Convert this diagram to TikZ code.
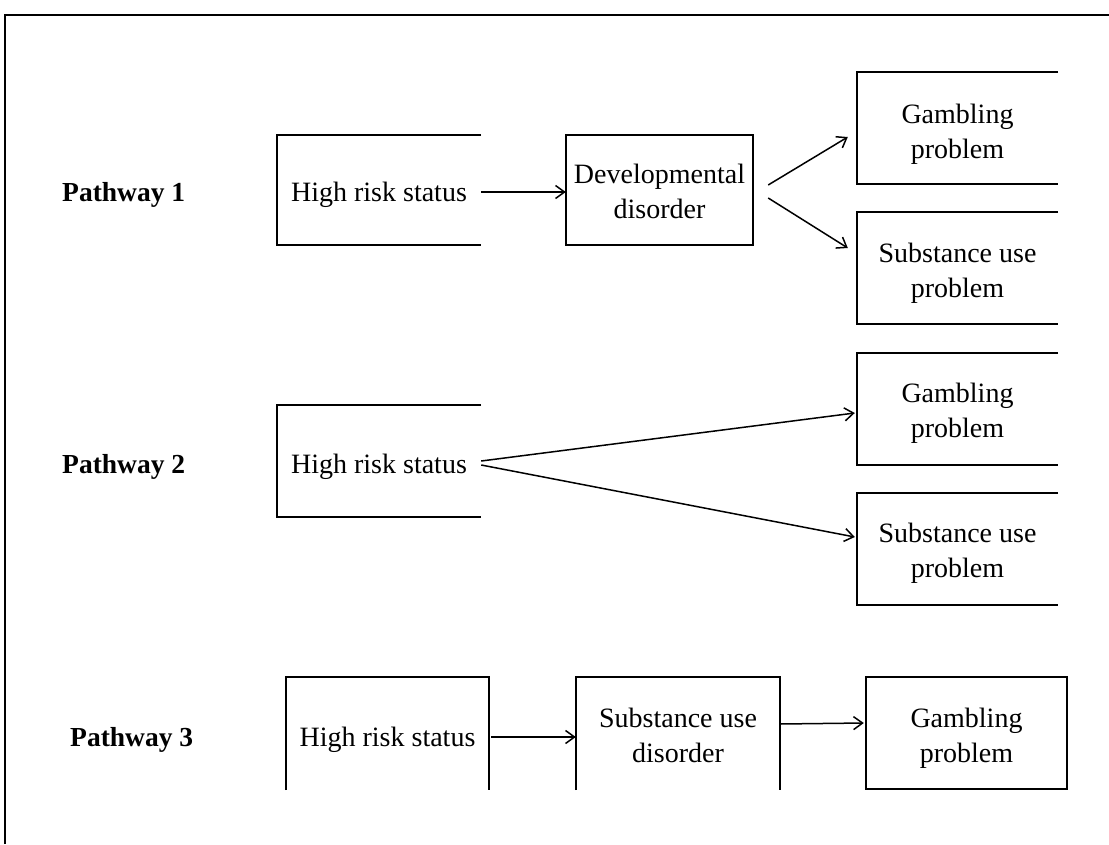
\documentclass[tikz,border=0pt]{standalone}
\usepackage{fontspec}
\setmainfont{Liberation Serif}
\usetikzlibrary{arrows.meta,calc}
\begin{document}
\begin{tikzpicture}[x=1pt,y=-1pt,
  txt/.style={font=\fontsize{28}{35}\selectfont, align=center, inner sep=0pt},
  lbl/.style={font=\fontsize{27.5}{33}\selectfont\bfseries, inner sep=0pt, anchor=west},
  edge/.style={line width=1.8pt},
  frame/.style={line width=2pt},
  arr/.style={line width=1.5pt, -{Straight Barb[length=9pt,width=13pt,line width=1.5pt]}},
  widebox/.style={inner sep=0pt, minimum width=204pt, minimum height=110pt},
  outbox/.style={inner sep=0pt, minimum width=201pt, minimum height=112pt},
  tallbox/.style={inner sep=0pt, minimum width=203pt, minimum height=120pt}]
\useasboundingbox (0,0) rectangle (1109,844);
% outer frame
\draw[frame] (5,844) -- (5,15) -- (1109,15);

% Pathway labels
\node[lbl] (p1) at (62,195) {Pathway 1};
\node[lbl] (p2) at (62,467) {Pathway 2};
\node[lbl] (p3) at (70,740) {Pathway 3};

% box geometry
\node[widebox] (hr1) at (379,190) {};
\node[inner sep=0pt, minimum width=187pt, minimum height=110pt] (dev) at (659.5,190) {};
\node[outbox] (gam1) at (957.5,128) {};
\node[outbox] (sub1) at (957.5,268) {};
\node[widebox, minimum height=112pt] (hr2) at (379,461) {};
\node[outbox] (gam2) at (957.5,409) {};
\node[outbox] (sub2) at (957.5,549) {};
\node[tallbox] (hr3) at (387.5,737) {};
\node[tallbox, minimum width=204pt] (sub3) at (678,737) {};
\node[outbox] (gam3) at (966.5,733) {};

% box texts
\node[txt] (hr1t) at ($(hr1)+(0,5)$) {High risk status};
\node[txt] (devt) at ($(dev)+(0,1.5)$) {Developmental\\disorder};
\node[txt] (gam1t) at ($(gam1)+(0,6)$) {Gambling\\problem};
\node[txt] (sub1t) at ($(sub1)+(0,5.5)$) {Substance use\\problem};
\node[txt] (hr2t) at ($(hr2)+(0,6)$) {High risk status};
\node[txt] (gam2t) at ($(gam2)+(0,4.5)$) {Gambling\\problem};
\node[txt] (sub2t) at ($(sub2)+(0,4.5)$) {Substance use\\problem};
\node[txt] (hr3t) at ($(hr3)+(0,3)$) {High risk status};
\node[txt] (sub3t) at ($(sub3)+(0,-2)$) {Substance use\\disorder};
\node[txt] (gam3t) at ($(gam3)+(0,5)$) {Gambling\\problem};

% box edges
\foreach \b in {hr1,hr2,gam1,sub1,gam2,sub2}{
  \draw[edge] (\b.north east) -- (\b.north west) -- (\b.south west) -- (\b.south east);
}
\draw[edge] (dev.north west) rectangle (dev.south east);
\draw[edge] (gam3.north west) rectangle (gam3.south east);
\foreach \b in {hr3,sub3}{
  \draw[edge] (\b.west |- 0,790) -- (\b.north west) -- (\b.north east) -- (\b.east |- 0,790);
}

% connectors
\draw[arr] ($(hr1.east)+(0,2)$) -- ($(dev.west)+(0,2)$);
\draw[arr] ($(dev.east)+(15,-5)$) -- ($(gam1.west)+(-9,9)$);
\draw[arr] ($(dev.east)+(15,8)$) -- ($(sub1.west)+(-9,-20)$);
\draw[arr] (hr2.east) -- ($(gam2.west)+(-2,4)$);
\draw[arr] ($(hr2.east)+(0,4)$) -- ($(sub2.west)+(-2,-12)$);
\draw[arr] ($(hr3.east)+(2,0)$) -- (sub3.west);
\draw[arr] ($(sub3.east)+(0,-13)$) -- ($(gam3.west)+(-2,-10)$);
\end{tikzpicture}
\end{document}
